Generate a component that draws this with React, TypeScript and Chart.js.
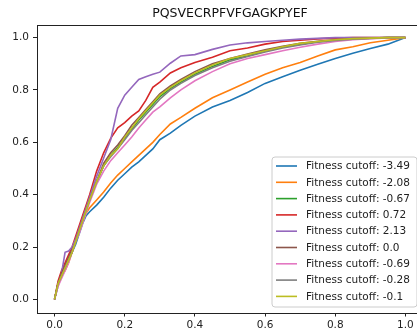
import React, { useEffect, useRef } from "react";
import { Chart, registerables } from "chart.js";

Chart.register(...registerables);

const TITLE = "PQSVECRPFVFGAGKPYEF";
const xs = [0, 0.01, 0.02, 0.03, 0.04, 0.05, 0.06, 0.07, 0.08, 0.09, 0.1, 0.12, 0.14, 0.16, 0.18, 0.2, 0.22, 0.24, 0.26, 0.28, 0.3, 0.33, 0.36, 0.4, 0.45, 0.5, 0.55, 0.6, 0.65, 0.7, 0.75, 0.8, 0.85, 0.9, 0.95, 1.0];

const labels = [
  "Fitness cutoff: -3.49",
  "Fitness cutoff: -2.08",
  "Fitness cutoff: -0.67",
  "Fitness cutoff: 0.72",
  "Fitness cutoff: 2.13",
  "Fitness cutoff: 0.0",
  "Fitness cutoff: -0.69",
  "Fitness cutoff: -0.28",
  "Fitness cutoff: -0.1",
];
const colors = ["#1f77b4", "#ff7f0e", "#2ca02c", "#d62728", "#9467bd", "#8c564b", "#e377c2", "#7f7f7f", "#bcbd22"];

const blue = [0, 0.06, 0.09, 0.12, 0.15, 0.18, 0.21, 0.25, 0.29, 0.32, 0.335, 0.36, 0.39, 0.425, 0.455, 0.48, 0.505, 0.525, 0.55, 0.575, 0.61, 0.635, 0.665, 0.70, 0.735, 0.76, 0.79, 0.825, 0.85, 0.875, 0.898, 0.92, 0.94, 0.958, 0.975, 1.0];
const orange = [0, 0.06, 0.09, 0.11, 0.14, 0.18, 0.22, 0.26, 0.3, 0.33, 0.35, 0.38, 0.41, 0.445, 0.475, 0.5, 0.525, 0.55, 0.575, 0.6, 0.63, 0.67, 0.695, 0.73, 0.77, 0.8, 0.83, 0.86, 0.885, 0.905, 0.93, 0.953, 0.965, 0.98, 0.99, 1.0];
const green = [0, 0.06, 0.09, 0.12, 0.15, 0.18, 0.22, 0.26, 0.3, 0.34, 0.38, 0.45, 0.51, 0.55, 0.58, 0.615, 0.65, 0.685, 0.715, 0.745, 0.775, 0.805, 0.83, 0.86, 0.89, 0.915, 0.93, 0.948, 0.963, 0.975, 0.984, 0.99, 0.995, 0.998, 1, 1];
const red = [0, 0.07, 0.11, 0.14, 0.17, 0.2, 0.24, 0.28, 0.32, 0.36, 0.4, 0.49, 0.56, 0.615, 0.655, 0.675, 0.70, 0.72, 0.76, 0.81, 0.83, 0.865, 0.885, 0.905, 0.925, 0.95, 0.96, 0.975, 0.985, 0.99, 0.995, 0.998, 1, 1, 1, 1];
const purple = [0, 0.05, 0.1, 0.18, 0.185, 0.2, 0.23, 0.27, 0.31, 0.35, 0.39, 0.47, 0.54, 0.61, 0.73, 0.78, 0.81, 0.84, 0.85, 0.86, 0.868, 0.902, 0.93, 0.935, 0.955, 0.972, 0.98, 0.985, 0.99, 0.994, 0.997, 1, 1, 1, 1, 1];
const brown = [0, 0.06, 0.1, 0.13, 0.16, 0.19, 0.22, 0.26, 0.3, 0.34, 0.38, 0.45, 0.52, 0.56, 0.59, 0.625, 0.665, 0.695, 0.725, 0.755, 0.785, 0.815, 0.84, 0.87, 0.9, 0.92, 0.937, 0.953, 0.967, 0.978, 0.986, 0.992, 0.996, 0.998, 1, 1];
const pink = [0, 0.05, 0.08, 0.11, 0.14, 0.18, 0.22, 0.25, 0.29, 0.33, 0.37, 0.44, 0.49, 0.53, 0.56, 0.59, 0.62, 0.655, 0.685, 0.715, 0.735, 0.77, 0.8, 0.835, 0.87, 0.9, 0.92, 0.935, 0.95, 0.963, 0.975, 0.985, 0.992, 0.996, 0.999, 1];
const gray = [0, 0.06, 0.09, 0.12, 0.15, 0.18, 0.22, 0.26, 0.3, 0.34, 0.38, 0.45, 0.51, 0.545, 0.575, 0.61, 0.645, 0.675, 0.705, 0.735, 0.765, 0.8, 0.825, 0.855, 0.885, 0.91, 0.928, 0.945, 0.96, 0.972, 0.982, 0.989, 0.994, 0.997, 1, 1];
const olive = [0, 0.06, 0.09, 0.12, 0.15, 0.18, 0.22, 0.26, 0.3, 0.34, 0.38, 0.45, 0.51, 0.55, 0.575, 0.62, 0.655, 0.69, 0.72, 0.75, 0.78, 0.81, 0.835, 0.865, 0.895, 0.92, 0.935, 0.95, 0.965, 0.978, 0.985, 0.992, 0.996, 0.998, 1, 1];

const series = [blue, orange, green, red, purple, brown, pink, gray, olive];
const xTicks = [0, 0.2, 0.4, 0.6, 0.8, 1.0];
const yTicks = [0, 0.2, 0.4, 0.6, 0.8, 1.0];

const FONT = "'DejaVu Sans', sans-serif";

const framePlugin = {
  id: "frame",
  afterDatasetsDraw(chart: any) {
    const { ctx, chartArea } = chart;
    ctx.save();
    ctx.strokeStyle = "#222";
    ctx.lineWidth = 1;
    ctx.strokeRect(Math.round(chartArea.left) + 0.5, Math.round(chartArea.top) + 0.5, Math.round(chartArea.right - chartArea.left), Math.round(chartArea.bottom - chartArea.top));
    ctx.restore();
  },
};

const legendPlugin = {
  id: "mplLegend",
  afterDraw(chart: any) {
    const { ctx, chartArea } = chart;
    const ds = chart.data.datasets;
    const w = 145;
    const rowH = 16.3;
    const h = 150;
    const right = chartArea.right - 6;
    const bottom = chartArea.bottom - 5.5;
    const left = right - w;
    const top = bottom - h;
    ctx.save();
    ctx.beginPath();
    const r = 3;
    ctx.moveTo(left + r, top);
    ctx.lineTo(right - r, top);
    ctx.quadraticCurveTo(right, top, right, top + r);
    ctx.lineTo(right, bottom - r);
    ctx.quadraticCurveTo(right, bottom, right - r, bottom);
    ctx.lineTo(left + r, bottom);
    ctx.quadraticCurveTo(left, bottom, left, bottom - r);
    ctx.lineTo(left, top + r);
    ctx.quadraticCurveTo(left, top, left + r, top);
    ctx.closePath();
    ctx.fillStyle = "rgba(255,255,255,0.8)";
    ctx.fill();
    ctx.strokeStyle = "#cccccc";
    ctx.lineWidth = 1;
    ctx.stroke();
    ctx.font = `10.5px ${FONT}`;
    ctx.textBaseline = "middle";
    ctx.textAlign = "left";
    ds.forEach((d: any, i: number) => {
      const y = top + 9 + i * rowH;
      ctx.strokeStyle = d.borderColor;
      ctx.lineWidth = 1.6;
      ctx.beginPath();
      ctx.moveTo(left + 4, y);
      ctx.lineTo(left + 25, y);
      ctx.stroke();
      ctx.fillStyle = "#222";
      ctx.fillText(d.label, left + 34, y + 0.5);
    });
    ctx.restore();
  },
};

export default function App() {
  const ref = useRef<HTMLCanvasElement>(null);
  useEffect(() => {
    document.body.style.margin = "0";
    document.body.style.overflow = "hidden";
    const chart = new Chart(ref.current as HTMLCanvasElement, {
      type: "line",
      data: {
        datasets: series.map((s, i) => ({
          label: labels[i],
          data: xs.map((x, j) => ({ x, y: s[j] })),
          borderColor: colors[i],
          backgroundColor: colors[i],
          borderWidth: 1.6,
          pointRadius: 0,
          tension: 0,
          fill: false,
          order: series.length - i,
        })),
      },
      options: {
        animation: false,
        responsive: false,
        events: [],
        layout: { padding: 0 },
        plugins: {
          legend: { display: false },
          tooltip: { enabled: false },
          title: {
            display: true,
            text: TITLE,
            fullSize: false,
            color: "#111",
            font: { family: FONT, size: 12.5, weight: "normal" },
            padding: { top: 6, bottom: 3.5 },
          },
        },
        scales: {
          x: {
            type: "linear",
            min: -0.05,
            max: 1.05,
            afterFit: (s: any) => { s.height = 23.5; },
            afterBuildTicks: (s: any) => { s.ticks = xTicks.map((v) => ({ value: v })); },
            ticks: {
              includeBounds: false,
              color: "#222",
              font: { family: FONT, size: 10.5 },
              padding: 2,
              maxRotation: 0,
              callback: (v: any) => Number(v).toFixed(1),
            },
            grid: { drawOnChartArea: false, drawTicks: true, tickLength: 4, color: "#222" },
            border: { display: false },
          },
          y: {
            type: "linear",
            min: -0.05,
            max: 1.05,
            afterFit: (s: any) => { s.width = 37; },
            afterBuildTicks: (s: any) => { s.ticks = yTicks.map((v) => ({ value: v })); },
            ticks: {
              includeBounds: false,
              color: "#222",
              font: { family: FONT, size: 10.5 },
              padding: 4,
              callback: (v: any) => Number(v).toFixed(1),
            },
            grid: { drawOnChartArea: false, drawTicks: true, tickLength: 4, color: "#222" },
            border: { display: false },
          },
        },
      },
      plugins: [framePlugin, legendPlugin],
    });
    return () => chart.destroy();
  }, []);
  return (
    <div style={{ position: "fixed", left: 0, top: 0, width: 417, height: 336, overflow: "hidden", background: "#fff" }}>
      <canvas ref={ref} width={423} height={336} style={{ width: 423, height: 336, display: "block" }} />
    </div>
  );
}
